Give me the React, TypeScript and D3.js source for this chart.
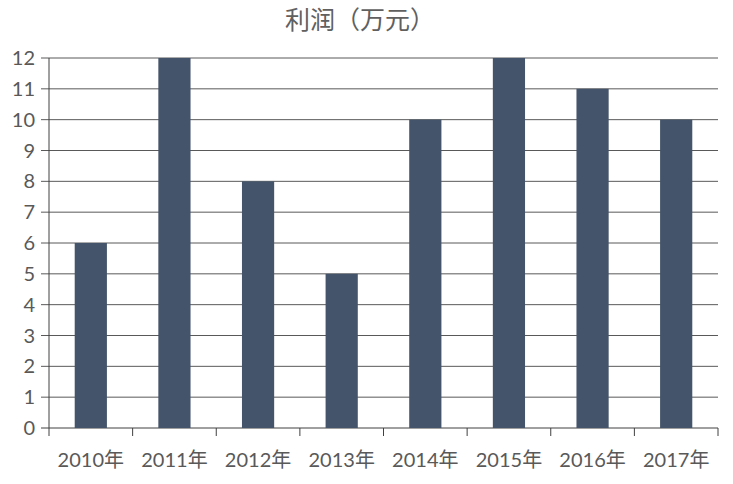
import React from "react";
import * as d3 from "d3";

const categories = ["2010年", "2011年", "2012年", "2013年", "2014年", "2015年", "2016年", "2017年"];
const profits = [6, 12, 8, 5, 10, 12, 11, 10];
const yTicks = [0, 1, 2, 3, 4, 5, 6, 7, 8, 9, 10, 11, 12];
const title = "利润（万元）";

const W = 733;
const H = 484;
const margin = { left: 49, right: 15, top: 58, bottom: 56 };
const FONT = "Lato, 'Noto Sans CJK SC', 'Noto Sans', sans-serif";

export default function App() {
  const x = d3
    .scaleBand<string>()
    .domain(categories)
    .range([margin.left, W - margin.right])
    .paddingInner(0.615)
    .paddingOuter(0.3075);
  const xOuter = d3
    .scaleBand<string>()
    .domain(categories)
    .range([margin.left, W - margin.right]);
  const y = d3.scaleLinear().domain([0, 12]).range([H - margin.bottom, margin.top]);
  const x0 = margin.left;
  const x1 = W - margin.right;
  const yb = y(0);

  return (
    <svg width={W} height={H} style={{ position: "absolute", left: 0, top: 0, background: "#fff" }}>
      <text x={360} y={29} textAnchor="middle" fontSize={25} fill="#606060" fontFamily={FONT}>
        {title}
      </text>
      {yTicks.map((t) => (
        <g key={t}>
          <line x1={x0 - 8} x2={x1} y1={y(t)} y2={y(t)} stroke={t === 0 ? "#404040" : "#595959"} strokeWidth={1} />
          <text x={35} y={y(t)} dy="0.35em" textAnchor="end" fontSize={20} fill="#595959" fontFamily={FONT}>
            {t}
          </text>
        </g>
      ))}
      {profits.map((v, i) => (
        <rect
          key={categories[i]}
          x={x(categories[i])}
          width={x.bandwidth()}
          y={y(v)}
          height={yb - y(v)}
          fill="#44546A"
        />
      ))}
      <line x1={x0} x2={x0} y1={y(12)} y2={yb} stroke="#404040" strokeWidth={1} />
      {categories.map((c) => (
        <line key={"t" + c} x1={xOuter(c)!} x2={xOuter(c)!} y1={yb} y2={yb + 8} stroke="#404040" />
      ))}
      <line x1={x1} x2={x1} y1={yb} y2={yb + 8} stroke="#404040" />
      {categories.map((c) => (
        <text
          key={"l" + c}
          x={xOuter(c)! + xOuter.bandwidth() / 2}
          y={467}
          textAnchor="middle"
          fontSize={20}
          fill="#595959"
          fontFamily={FONT}
        >
          {c}
        </text>
      ))}
    </svg>
  );
}
